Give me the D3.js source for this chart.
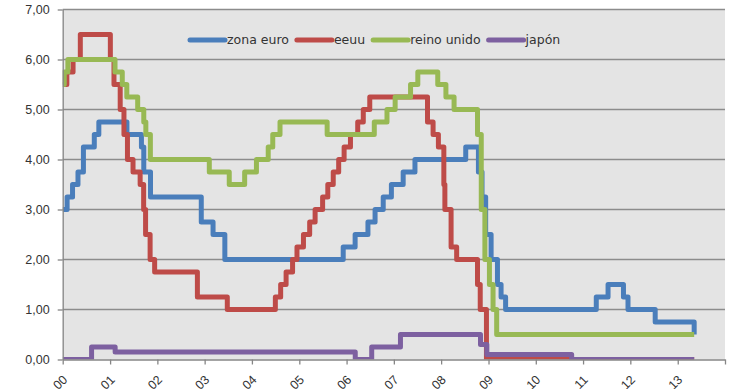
<!DOCTYPE html>
<html>
<head>
<meta charset="utf-8">
<script src="https://cdn.jsdelivr.net/npm/d3@7"></script>
<style>
  body { margin: 0; background: #fff; }
  svg { display: block; font-family: "DejaVu Sans", sans-serif; }
  .axis text { font-size: 12.5px; fill: #333; }
  .axis path, .axis line { stroke: #868686; stroke-width: 1.3; }
  .grid line { stroke: #8c8c8c; stroke-width: 1.3; }
  .legend-label { font-size: 12.5px; fill: #333; }
</style>
</head>
<body>
<svg id="chart" width="740" height="389"></svg>
<script>
// Policy rates, step changes (date of change, new rate)
const euroDates = ["2000-01-01","2000-02-04","2000-03-17","2000-04-28","2000-06-09","2000-09-01","2000-10-06","2001-05-11","2001-08-31","2001-09-18","2001-11-09","2002-12-06","2003-03-07","2003-06-06","2005-12-06","2006-03-08","2006-06-15","2006-08-09","2006-10-11","2006-12-13","2007-03-14","2007-06-13","2008-07-09","2008-10-15","2008-11-12","2008-12-10","2009-01-21","2009-03-11","2009-04-08","2009-05-13","2011-04-13","2011-07-13","2011-11-09","2011-12-14","2012-07-11","2013-05-08"];
const euroRates = [3.00,3.25,3.50,3.75,4.25,4.50,4.75,4.50,4.25,3.75,3.25,2.75,2.50,2.00,2.25,2.50,2.75,3.00,3.25,3.50,3.75,4.00,4.25,3.75,3.25,2.50,2.00,1.50,1.25,1.00,1.25,1.50,1.25,1.00,0.75,0.50];

const usDates = ["2000-01-01","2000-02-02","2000-03-21","2000-05-16","2001-01-03","2001-01-31","2001-03-20","2001-04-18","2001-05-15","2001-06-27","2001-08-21","2001-09-17","2001-10-02","2001-11-06","2001-12-11","2002-11-06","2003-06-25","2004-06-30","2004-08-10","2004-09-21","2004-11-10","2004-12-14","2005-02-02","2005-03-22","2005-05-03","2005-06-30","2005-08-09","2005-09-20","2005-11-01","2005-12-13","2006-01-31","2006-03-28","2006-05-10","2006-06-29","2007-09-18","2007-10-31","2007-12-11","2008-01-22","2008-01-30","2008-03-18","2008-04-30","2008-10-08","2008-10-29","2008-12-16","2013-05-08"];
const usRates = [5.50,5.75,6.00,6.50,6.00,5.50,5.00,4.50,4.00,3.75,3.50,3.00,2.50,2.00,1.75,1.25,1.00,1.25,1.50,1.75,2.00,2.25,2.50,2.75,3.00,3.25,3.50,3.75,4.00,4.25,4.50,4.75,5.00,5.25,4.75,4.50,4.25,3.50,3.00,2.25,2.00,1.50,1.00,0.00,0.00];

const ukDates = ["2000-01-01","2000-01-13","2000-02-10","2001-02-08","2001-04-05","2001-05-10","2001-08-02","2001-09-18","2001-10-04","2001-11-08","2003-02-06","2003-07-10","2003-11-06","2004-02-05","2004-05-06","2004-06-10","2004-08-05","2005-08-04","2006-08-03","2006-11-09","2007-01-11","2007-05-10","2007-07-05","2007-12-06","2008-02-07","2008-04-10","2008-10-08","2008-11-06","2008-12-04","2009-01-08","2009-02-05","2009-03-05","2013-05-08"];
const ukRates = [5.50,5.75,6.00,5.75,5.50,5.25,5.00,4.75,4.50,4.00,3.75,3.50,3.75,4.00,4.25,4.50,4.75,4.50,4.75,5.00,5.25,5.50,5.75,5.50,5.25,5.00,4.50,3.00,2.00,1.50,1.00,0.50,0.50];

const japanDates = ["2000-01-01","2000-08-11","2001-02-09","2006-03-09","2006-07-14","2007-02-21","2008-10-31","2008-12-19","2010-10-05","2013-05-08"];
const japanRates = [0.00,0.25,0.15,0.00,0.25,0.50,0.30,0.10,0.00,0.00];

const seriesNames = ["zona euro", "eeuu", "reino unido", "japón"];
const seriesColors = ["#4a7ebb", "#be4b48", "#98b954", "#7d60a0"];

const yTicks = [0, 1, 2, 3, 4, 5, 6, 7];
const yearLabels = ["00","01","02","03","04","05","06","07","08","09","10","11","12","13"];

const parse = d3.utcParse("%Y-%m-%d");
const toPoints = (dates, rates) => dates.map((d, i) => ({ date: parse(d), value: rates[i] }));
const series = [
    toPoints(euroDates, euroRates),
    toPoints(usDates, usRates),
    toPoints(ukDates, ukRates),
    toPoints(japanDates, japanRates)
];

const plotLeft = 62.7, plotRight = 725, plotTop = 9.5, plotBottom = 359.5;
const svg = d3.select('#chart');

const x = d3.scaleUtc()
    .domain([parse("2000-01-01"), parse("2014-01-01")])
    .range([plotLeft, plotRight]);
const y = d3.scaleLinear().domain([0, 7]).range([plotBottom, plotTop]);

const fmt = d3.formatLocale({ decimal: ",", thousands: ".", grouping: [3], currency: ["", "€"] }).format(".2f");

// plot background
svg.append('rect')
    .attr('x', plotLeft).attr('y', plotTop)
    .attr('width', plotRight - plotLeft).attr('height', plotBottom - plotTop)
    .attr('fill', '#e4e4e4');

// gridlines
svg.append('g').attr('class', 'grid')
    .selectAll('line')
    .data(yTicks.filter(v => v > 0))
    .enter().append('line')
    .attr('x1', plotLeft).attr('x2', plotRight)
    .attr('y1', d => y(d)).attr('y2', d => y(d));

svg.append('clipPath').attr('id', 'plot-clip')
    .append('rect')
    .attr('x', plotLeft).attr('y', plotTop)
    .attr('width', plotRight - plotLeft).attr('height', plotBottom - plotTop);

const line = d3.line()
    .x(d => x(d.date))
    .y(d => y(d.value))
    .curve(d3.curveStepAfter);

svg.append('g').attr('clip-path', 'url(#plot-clip)')
    .selectAll('path')
    .data(series)
    .enter().append('path')
    .attr('d', line)
    .attr('fill', 'none')
    .attr('stroke', (d, i) => seriesColors[i])
    .attr('stroke-width', 5)
    .attr('stroke-linejoin', 'round');

// y axis
svg.append('g').attr('class', 'axis')
    .attr('transform', `translate(${plotLeft},0)`)
    .call(d3.axisLeft(y).tickValues(yTicks).tickSize(5).tickSizeOuter(0).tickPadding(8).tickFormat(fmt));

// x axis
const yearTicks = d3.utcYear.range(parse("2000-01-01"), parse("2014-01-02"));
const xAxis = svg.append('g').attr('class', 'axis')
    .attr('transform', `translate(0,${plotBottom})`)
    .call(d3.axisBottom(x).tickValues(yearTicks).tickSize(5).tickSizeOuter(0)
        .tickFormat((d, i) => yearLabels[i] || ""));
xAxis.selectAll('text')
    .attr('x', 0).attr('y', 0).attr('dy', 0)
    .attr('text-anchor', 'end')
    .attr('transform', 'translate(5,21) rotate(-45)');

// legend
let lx = 190;
const ly = 40;
seriesNames.forEach((name, i) => {
    svg.append('line')
        .attr('x1', lx).attr('x2', lx + 35)
        .attr('y1', ly).attr('y2', ly)
        .attr('stroke', seriesColors[i])
        .attr('stroke-width', 5)
        .attr('stroke-linecap', 'round');
    const t = svg.append('text')
        .attr('class', 'legend-label')
        .attr('x', lx + 37)
        .attr('y', ly)
        .attr('dy', '.35em')
        .text(name);
    lx += 37 + t.node().getComputedTextLength() + 8;
});
</script>
</body>
</html>
